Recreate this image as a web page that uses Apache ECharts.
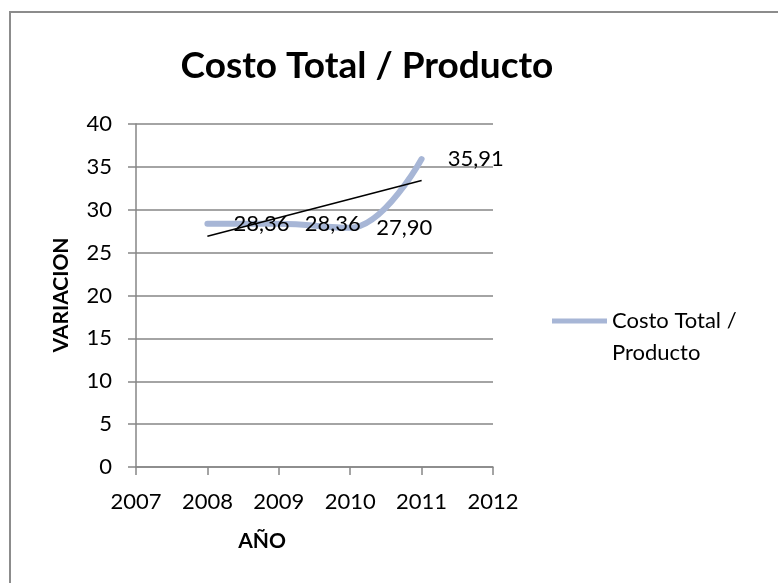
<!DOCTYPE html>
<html>
<head>
<meta charset="utf-8">
<script src="https://cdn.jsdelivr.net/npm/echarts@6/dist/echarts.min.js"></script>
<style>
  html, body { margin: 0; padding: 0; background: #fff; }
  #chart { width: 778px; height: 583px; }
</style>
</head>
<body>
<div id="chart"></div>
<script>
// data
var years = [2008, 2009, 2010, 2011];
var costo = [28.36, 28.36, 27.90, 35.91];
// linear trendline ends (2008, 2011)
var trendYears = [2008, 2011];
var trendValues = [26.9, 33.4];

var font = 'Lato, "Open Sans", sans-serif';

function pairs(xs, ys) {
    return xs.map(function (x, i) { return [x, ys[i]] })
}

chart = echarts.init(document.getElementById("chart"));

chart.setOption({
    animation: false,
    backgroundColor: '#fff',
    textStyle: { fontFamily: font },
    title: {
        text: 'Costo Total / Producto',
        left: 362,
        textAlign: 'center',
        top: 43,
        textStyle: { fontSize: 37, fontWeight: 'bold', color: '#000', fontFamily: font }
    },
    legend: {
        left: 552,
        top: 273,
        padding: 0,
        icon: 'rect',
        itemWidth: 55,
        itemHeight: 5,
        itemGap: 3,
        data: ['Costo Total / Producto'],
        // blank first line keeps the icon level with "Costo Total /"
        formatter: function () { return ' \nCosto Total /\nProducto' },
        textStyle: {
            fontSize: 22, color: '#000', fontFamily: font,
            lineHeight: 32
        }
    },
    grid: { left: 136, right: 285, top: 124, bottom: 116 },
    xAxis: {
        type: 'value',
        min: 2007,
        max: 2012,
        interval: 1,
        splitLine: { show: false },
        axisLine: { lineStyle: { color: '#868686', width: 1.5 } },
        axisTick: { show: true, inside: false, length: 8, lineStyle: { color: '#868686', width: 1.5 } },
        axisLabel: {
            margin: 24, fontSize: 22, color: '#000', fontFamily: font,
            formatter: function (v) { return String(v) }
        }
    },
    yAxis: {
        type: 'value',
        min: 0,
        max: 40,
        interval: 5,
        axisLine: { show: true, lineStyle: { color: '#868686', width: 1.5 } },
        axisTick: { show: true, inside: false, length: 8, lineStyle: { color: '#868686', width: 1.5 } },
        splitLine: { lineStyle: { color: '#868686', width: 1.5 } },
        axisLabel: { margin: 24, fontSize: 22, color: '#000', fontFamily: font }
    },
    graphic: [
        {
            type: 'rect',
            shape: { x: 10, y: 12, width: 790, height: 600 },
            style: { fill: null, stroke: '#8c8c8c', lineWidth: 2 },
            silent: true
        },
        {
            type: 'text',
            x: 262, y: 541,
            style: {
                text: 'AÑO', fill: '#000', font: 'bold 21px ' + font,
                align: 'center', verticalAlign: 'middle'
            }
        },
        {
            type: 'text',
            x: 61, y: 295,
            rotation: Math.PI / 2,
            style: {
                text: 'VARIACION', fill: '#000', font: 'bold 21px ' + font,
                align: 'center', verticalAlign: 'middle'
            }
        }
    ],
    series: [
        {
            name: 'Costo Total / Producto',
            type: 'line',
            smooth: 0.4,
            showSymbol: true,
            symbol: 'circle',
            symbolSize: 0.1,
            data: pairs(years, costo),
            lineStyle: { color: '#A7B6D6', width: 6, cap: 'round' },
            itemStyle: { color: '#A7B6D6' },
            label: {
                show: true,
                position: 'right',
                distance: 26,
                fontSize: 22,
                color: '#000',
                fontFamily: font,
                formatter: function (p) { return p.value[1].toFixed(2).replace('.', ',') }
            },
            z: 2
        },
        {
            name: 'tendencia',
            type: 'line',
            symbol: 'none',
            data: pairs(trendYears, trendValues),
            lineStyle: { color: '#000', width: 1.5 },
            z: 3
        }
    ]
});
</script>
</body>
</html>
